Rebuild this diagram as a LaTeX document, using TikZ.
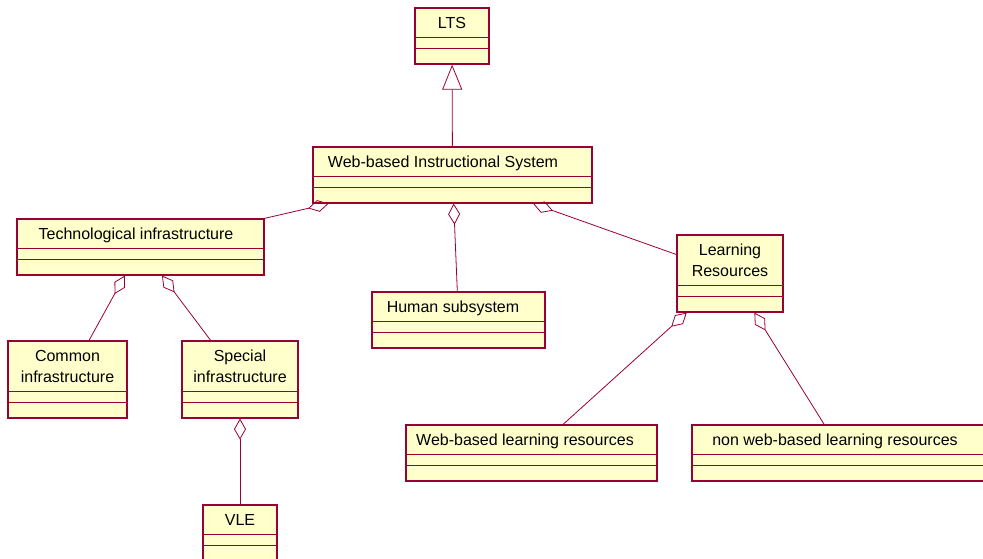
\documentclass[tikz,border=0pt]{standalone}
\usepackage{fontspec}
\setmainfont{Liberation Sans}
\usetikzlibrary{shapes.multipart,arrows.meta}

\definecolor{roseline}{RGB}{153,0,51}
\definecolor{rosefill}{RGB}{255,255,204}

% class name compartment (one or two lines) and the two empty compartments
\newcommand{\clsname}[2][0pt]{\rule[-8pt]{0pt}{28pt}#2\hspace*{#1}}
\newcommand{\clsnametwo}[2]{\rule[-8pt]{0pt}{28pt}#1\\\rule[-8pt]{0pt}{21pt}#2}
\newcommand{\clsparts}{\nodepart{two}\rule{0pt}{10pt}\nodepart{three}\rule{0pt}{14pt}}

\begin{document}
\begin{tikzpicture}[
    x=1pt, y=-1pt,
    umlclass/.style={rectangle split, rectangle split parts=3, draw=roseline, fill=rosefill, line width=1.3pt, inner xsep=0pt, inner ysep=0pt, align=center, font={\fontsize{16}{21}\selectfont}},
    aggr/.style={draw=roseline, line width=0.8pt, -{Diamond[open, length=21pt, width=12pt]}},
    gen/.style={draw=roseline, line width=0.8pt, -{Triangle[open, length=25pt, width=20pt]}}
]
    \useasboundingbox (0,0) rectangle (983,558);
    \clip (0,0) rectangle (983,558);

    % Classes
    \node [umlclass, minimum width=74] (lts) at (452,36) {\clsname{LTS}\clsparts};
    \node [umlclass, minimum width=279] (web) at (452.5,175) {\clsname[19pt]{Web-based Instructional System}\clsparts};
    \node [umlclass, minimum width=247] (tech) at (140.5,247) {\clsname[9pt]{Technological infrastructure}\clsparts};
    \node [umlclass, minimum width=173] (human) at (458.5,320) {\clsname[11pt]{Human subsystem}\clsparts};
    \node [umlclass, minimum width=106] (learn) at (730,273.5) {\clsnametwo{Learning}{Resources}\clsparts};
    \node [umlclass, minimum width=119] (common) at (67.5,379.5) {\clsnametwo{Common}{infrastructure}\clsparts};
    \node [umlclass, minimum width=116] (special) at (240,379.5) {\clsnametwo{Special}{infrastructure}\clsparts};
    \node [umlclass, minimum width=74] (vle) at (240,533) {\clsname{VLE}\clsparts};
    \node [umlclass, minimum width=251] (webres) at (531.5,453) {\clsname[13pt]{Web-based learning resources}\clsparts};
    \node [umlclass, minimum width=300] (nonweb) at (842,453) {\clsname[14pt]{non web-based learning resources}\clsparts};

    % Generalization
    \path [gen] (web) -- (lts);

    % Aggregations
    \path [aggr] (tech) -- (web);
    \path [aggr] (human) -- (web);
    \path [aggr] (learn) -- (web);
    \path [aggr] (common) -- (tech);
    \path [aggr] (special) -- (tech);
    \path [aggr] (vle) -- (special);
    \path [aggr] (webres) -- (learn);
    \path [aggr] (nonweb) -- (learn);

\end{tikzpicture}
\end{document}
